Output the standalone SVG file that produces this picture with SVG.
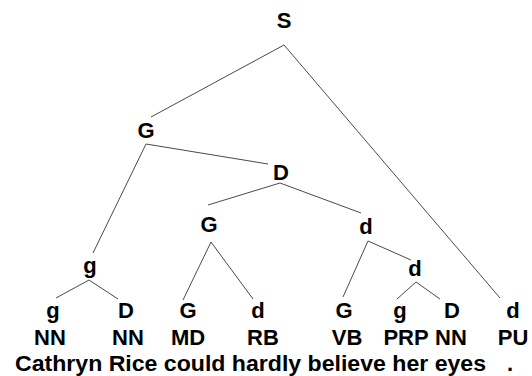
<svg xmlns="http://www.w3.org/2000/svg" width="532" height="376" viewBox="0 0 532 376">
  <style>
    text { font-family: "Liberation Sans", Arial, sans-serif; font-weight: bold; font-size: 22px; fill: #000; text-anchor: middle; }
    .edge { stroke: #4a4a4a; stroke-width: 1; fill: none; }
  </style>
  <rect width="532" height="376" fill="#fff"/>

  <!-- tree edges -->
  <g id="connectors">
    <line class="edge" x1="284" y1="45" x2="151" y2="117"/>
    <line class="edge" x1="284" y1="45" x2="500" y2="298"/>
    <line class="edge" x1="146" y1="144" x2="93" y2="253"/>
    <line class="edge" x1="146" y1="144" x2="268" y2="164"/>
    <line class="edge" x1="280" y1="183" x2="208" y2="205"/>
    <line class="edge" x1="280" y1="183" x2="361" y2="213"/>
    <line class="edge" x1="211" y1="242" x2="183" y2="300"/>
    <line class="edge" x1="211" y1="242" x2="253" y2="299"/>
    <line class="edge" x1="368" y1="241" x2="343" y2="297"/>
    <line class="edge" x1="368" y1="241" x2="411" y2="260"/>
    <line class="edge" x1="416" y1="282" x2="397" y2="299"/>
    <line class="edge" x1="416" y1="282" x2="440" y2="299"/>
    <line class="edge" x1="89" y1="280" x2="56" y2="298"/>
    <line class="edge" x1="89" y1="280" x2="118" y2="299"/>
  </g>

  <!-- internal nodes -->
  <g id="n-S"><text x="284" y="28">S</text></g>
  <g id="n-G1"><text x="146" y="138">G</text></g>
  <g id="n-D1"><text x="281" y="180">D</text></g>
  <g id="n-G2"><text x="209" y="232">G</text></g>
  <g id="n-d2"><text x="366" y="234">d</text></g>
  <g id="n-g2"><text x="90" y="273">g</text></g>
  <g id="n-d3"><text x="415" y="276">d</text></g>

  <!-- leaf nodes with part-of-speech tags -->
  <g id="leaf-1"><text x="53" y="318">g</text><text x="50" y="345">NN</text></g>
  <g id="leaf-2"><text x="126" y="318">D</text><text x="128" y="345">NN</text></g>
  <g id="leaf-3"><text x="188" y="318">G</text><text x="188" y="345">MD</text></g>
  <g id="leaf-4"><text x="258" y="318">d</text><text x="263" y="345">RB</text></g>
  <g id="leaf-5"><text x="344" y="318">G</text><text x="347" y="345">VB</text></g>
  <g id="leaf-6"><text x="400" y="318">g</text><text x="406" y="345">PRP</text></g>
  <g id="leaf-7"><text x="452" y="318">D</text><text x="451" y="345">NN</text></g>
  <g id="leaf-8"><text x="513" y="318">d</text><text x="513" y="345">PU</text></g>

  <!-- sentence -->
  <g id="sentence">
    <text x="15" y="371" style="text-anchor:start" textLength="471" lengthAdjust="spacingAndGlyphs">Cathryn Rice could hardly believe her eyes</text>
    <text x="510" y="371">.</text>
  </g>
</svg>
